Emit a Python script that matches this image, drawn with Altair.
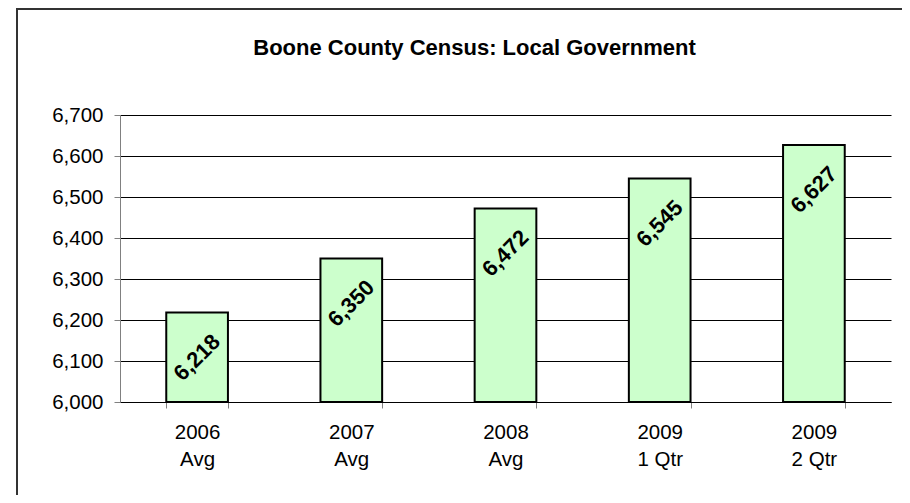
import altair as alt
import pandas as pd

# Data
categories = ["2006|Avg", "2007|Avg", "2008|Avg", "2009|1 Qtr", "2009|2 Qtr"]
values = [6218, 6350, 6472, 6545, 6627]
y_ticks = [6000, 6100, 6200, 6300, 6400, 6500, 6600, 6700]
baseline_value = 6000
title_text = "Boone County Census: Local Government"

df = pd.DataFrame({"period": categories, "employment": values})
FONT = "Liberation Sans"

x_enc = alt.X(
    "period:N",
    sort=categories,
    scale=alt.Scale(paddingInner=0.6, paddingOuter=0.3),
    axis=alt.Axis(
        title=None, labelAngle=0, labelExpr="split(datum.label, '|')",
        labelFont=FONT, labelFontSize=20.5, labelColor="black",
        labelLineHeight=27, labelPadding=14, tickSize=6, tickBand="extent",
        domainColor="black", domainWidth=1, tickColor="#808080", grid=False,
    ),
)
y_enc = alt.Y(
    "employment:Q",
    scale=alt.Scale(domain=[6000, 6700], nice=False, zero=False),
    axis=alt.Axis(
        title=None, values=y_ticks, format=",.0f", grid=True, gridColor="black",
        gridWidth=1, domainColor="#808080", tickColor="#808080", tickSize=6,
        labelPadding=11, labelFont=FONT, labelFontSize=20.5, labelColor="black",
    ),
)

border = alt.Chart(pd.DataFrame({"k": [0]})).mark_rect(
    filled=False, stroke="#333333", strokeWidth=2
).encode(
    x=alt.value(-103), x2=alt.value(900), y=alt.value(-106), y2=alt.value(500)
)

bars = alt.Chart(df).mark_bar(
    fill="#CCFFCC", stroke="black", strokeWidth=2
).encode(x=x_enc, y=y_enc, y2=alt.datum(baseline_value))

labels = alt.Chart(df).mark_text(
    angle=315, font=FONT, fontSize=22, fontWeight="bold", color="black",
    align="center", baseline="middle", dx=-31.8, dy=31.8,
).encode(
    x=alt.X("period:N", sort=categories),
    y="employment:Q",
    text=alt.Text("employment:Q", format=","),
)

chart = alt.layer(border, bars, labels).properties(
    width=771, height=287,
    padding={"left": 112, "top": 107, "right": 11, "bottom": 93},
    autosize=alt.AutoSizeParams(type="none"),
    title=alt.Title(title_text, font=FONT, fontSize=22, fontWeight="bold",
                    color="black", anchor="middle", dx=-31, offset=-69,
                    baseline="alphabetic"),
).configure_view(strokeWidth=0)

chart.save("out.html", embed_options={"renderer": "svg", "actions": False})
